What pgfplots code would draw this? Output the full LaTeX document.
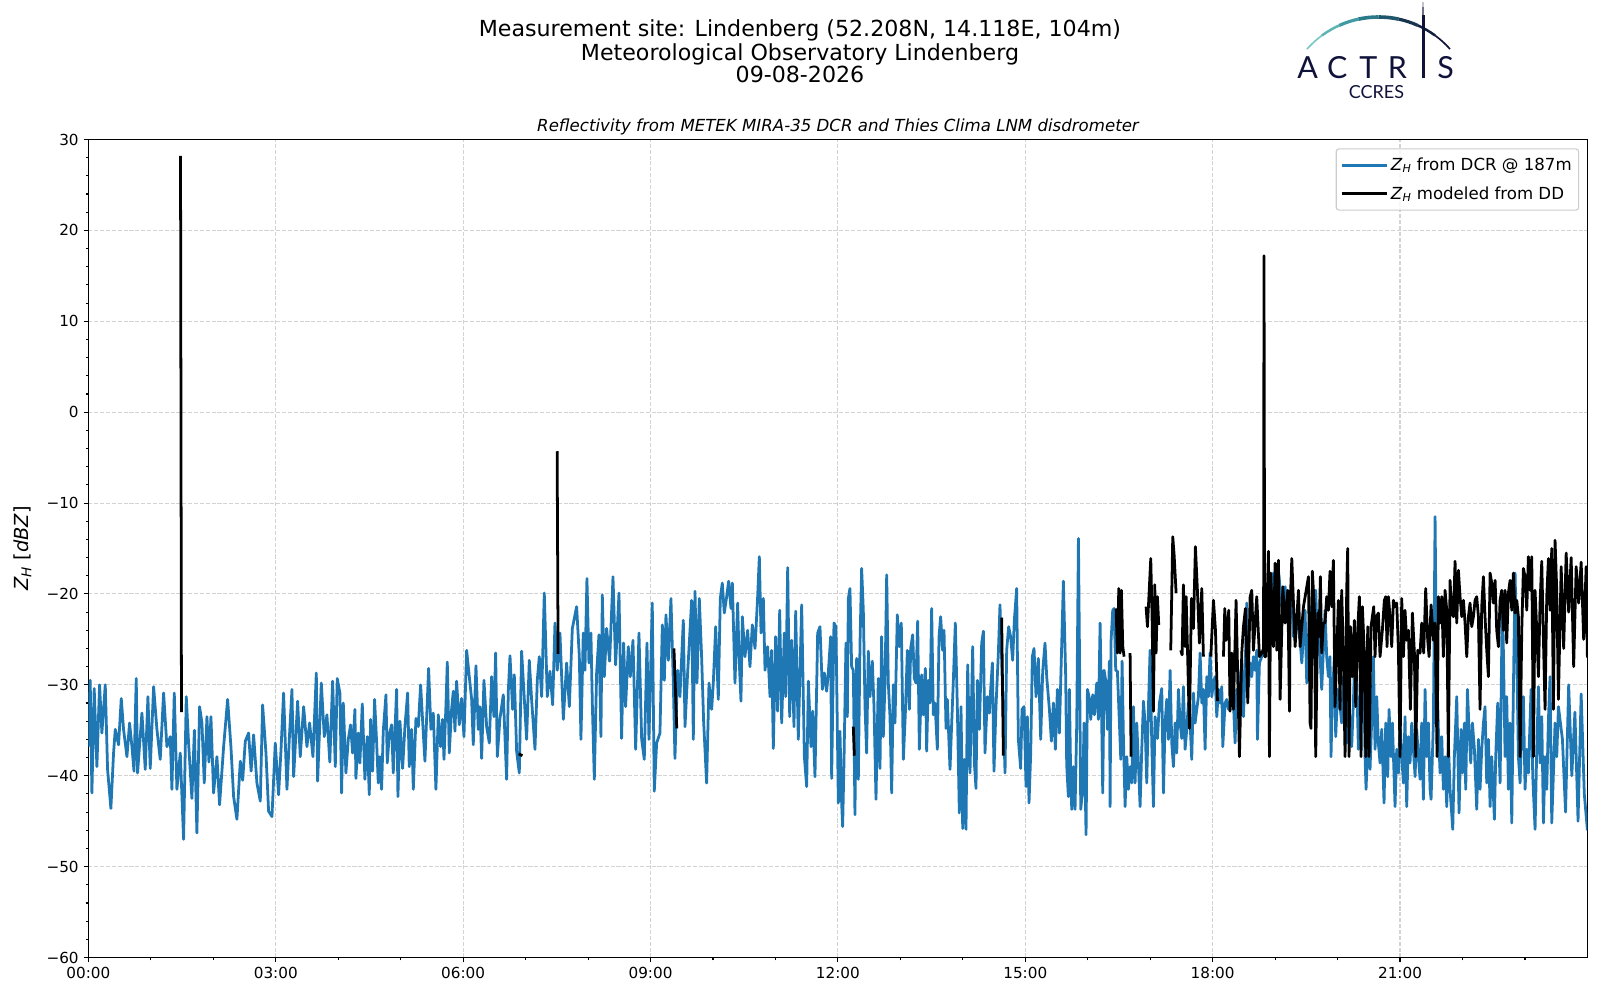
\documentclass[border=0pt]{standalone}
\usepackage{fontspec}
\setmainfont{DejaVu Sans}[ItalicFont={DejaVu Sans Oblique}]
\newfontfamily\logofont{Lato}
\usepackage{pgfplots}
\pgfplotsset{compat=1.18}
\definecolor{mplblue}{HTML}{1F77B4}
\definecolor{navy}{HTML}{10123A}
\definecolor{gridc}{HTML}{D3D3D3}
\definecolor{legc}{HTML}{CCCCCC}
\newcommand{\ZH}{\textit{Z}\textsubscript{\textit{H}}}
\begin{document}
\begin{tikzpicture}
\useasboundingbox (-0.884in,-0.425in) rectangle (15.116in,9.575in);
\begin{axis}[
  at={(0pt,0pt)}, anchor=south west,
  scale only axis, width=14.99in, height=8.18in,
  xmin=0, xmax=24, ymin=-60, ymax=30,
  xtick={0,3,6,9,12,15,18,21},
  xticklabels={00:00,03:00,06:00,09:00,12:00,15:00,18:00,21:00},
  minor xtick={1,2,4,5,7,8,10,11,13,14,16,17,19,20,22,23},
  ytick={-60,-50,-40,-30,-20,-10,0,10,20,30},
  yticklabels={−60,−50,−40,−30,−20,−10,0,10,20,30},
  minor y tick num=4,
  tick align=outside, tick pos=left,
  major tick length=3.5pt, minor tick length=2pt,
  every tick/.style={black, line width=0.8pt},
  axis line style={line width=0.8pt},
  grid=major,
  major grid style={gridc, line width=0.8pt, dash pattern=on 2.96pt off 1.28pt},
  ticklabel style={font=\fontsize{11}{13}\selectfont},
  /pgf/number format/assume math mode=true,
  ylabel={\ZH\ [\textit{dBZ}]},
  ylabel style={font=\fontsize{14}{16}\selectfont, at={(axis description cs:-0.044,0.5)}, anchor=center},
  unbounded coords=jump,
  legend style={at={(0.9945,0.9892)}, anchor=north east, font=\fontsize{12}{14}\selectfont,
    draw=legc, line width=0.8pt, rounded corners=2pt, fill=white, fill opacity=0.8, text opacity=1,
    inner xsep=3pt, inner ysep=4.5pt, row sep=6pt, cells={anchor=west}},
  legend image code/.code={\draw[#1, line width=2pt] (0pt,0pt) -- (27pt,0pt); \path (-1.5pt,0pt) -- (31pt,0pt);},
]
\addplot[mplblue, line width=2pt, line join=round] coordinates {
(0.000,-36.8)(0.029,-29.5)(0.056,-41.9)(0.093,-30.4)(0.136,-39.0)(0.179,-30.0)(0.216,-35.3)(0.270,-30.0)(0.307,-39.3)(0.360,-43.6)
(0.403,-37.5)(0.430,-34.9)(0.483,-36.6)(0.526,-31.5)(0.563,-34.9)(0.617,-37.9)(0.659,-34.2)(0.697,-36.8)(0.730,-39.5)(0.766,-29.3)(0.787,-39.7)
(0.857,-33.1)(0.910,-39.3)(0.953,-31.3)(0.990,-39.2)(1.044,-30.2)(1.097,-34.9)(1.150,-38.2)(1.204,-30.9)(1.257,-36.8)(1.311,-35.7)
(1.337,-41.5)(1.375,-30.9)(1.417,-41.5)(1.471,-37.5)(1.524,-47.0)(1.567,-31.3)(1.604,-36.4)(1.657,-42.5)(1.697,-35.0)(1.737,-46.3)(1.780,-32.4)
(1.818,-34.2)(1.855,-40.8)(1.898,-33.5)(1.930,-38.5)(1.962,-33.5)(2.004,-41.9)(2.058,-37.9)(2.100,-43.2)(2.165,-36.8)(2.229,-31.6)(2.282,-36.8)
(2.325,-42.3)(2.378,-44.8)(2.432,-38.4)(2.470,-40.5)(2.512,-36.2)(2.565,-35.3)(2.605,-39.5)(2.645,-35.5)(2.698,-40.8)(2.752,-42.8)(2.789,-32.2)
(2.843,-37.5)(2.885,-43.9)(2.939,-44.5)(2.992,-36.4)(3.045,-42.1)(3.085,-37.0)(3.125,-30.9)(3.179,-41.5)(3.220,-35.5)(3.259,-30.5)(3.286,-40.1)
(3.350,-31.8)(3.392,-37.9)(3.446,-32.4)(3.499,-36.8)(3.542,-34.2)(3.595,-37.9)(3.649,-28.7)(3.670,-40.6)(3.729,-29.8)(3.777,-35.7)
(3.819,-33.3)(3.865,-38.5)(3.910,-29.6)(3.953,-39.0)
(3.984,-29.3)(4.027,-30.9)(4.054,-41.9)(4.081,-32.0)(4.123,-39.7)(4.161,-36.0)(4.198,-34.4)(4.230,-37.5)(4.267,-32.7)(4.283,-40.3)
(4.321,-35.3)(4.347,-38.6)(4.385,-32.1)(4.427,-40.4)(4.465,-35.7)(4.497,-42.1)(4.518,-33.8)(4.550,-39.5)(4.582,-31.6)(4.614,-36.2)
(4.641,-40.8)(4.668,-37.9)(4.694,-41.5)(4.721,-35.1)(4.764,-31.1)(4.785,-38.6)(4.817,-35.5)(4.855,-34.4)(4.881,-39.7)(4.935,-30.5)
(4.956,-42.3)(4.988,-34.0)(5.031,-39.2)(5.068,-34.6)(5.111,-30.9)(5.137,-39.0)(5.175,-34.9)(5.202,-41.5)(5.244,-33.7)(5.282,-34.6)
(5.319,-30.0)(5.362,-35.3)(5.388,-38.4)(5.447,-28.2)(5.484,-34.9)(5.522,-33.1)(5.564,-41.5)(5.602,-33.3)(5.639,-36.8)(5.671,-33.8)
(5.693,-38.2)(5.725,-32.2)(5.746,-27.5)(5.778,-37.5)(5.815,-32.7)(5.842,-30.7)(5.869,-35.1)(5.895,-29.6)(5.938,-34.4)(5.975,-31.5)
(6.013,-35.7)(6.056,-26.2)(6.098,-29.1)(6.136,-31.6)(6.162,-36.6)(6.205,-27.9)(6.242,-34.9)(6.269,-32.4)(6.296,-38.1)(6.333,-29.5)
(6.376,-34.6)(6.419,-36.4)(6.456,-29.1)(6.493,-33.5)(6.520,-26.5)(6.547,-37.9)(6.589,-33.7)(6.643,-31.1)(6.696,-40.4)(6.723,-30.7)
(6.750,-26.8)(6.792,-32.7)(6.819,-28.9)(6.856,-37.3)(6.899,-39.7)(6.936,-26.3)(6.974,-30.9)(7.016,-36.0)(7.059,-27.3)(7.096,-31.6)
(7.150,-37.1)(7.187,-29.5)(7.219,-26.9)(7.257,-31.3)(7.299,-19.9)(7.347,-31.3)(7.390,-28.5)(7.433,-32.2)(7.470,-23.2)(7.507,-28.4)
(7.550,-24.3)(7.604,-33.8)(7.657,-27.6)(7.700,-32.4)(7.748,-23.8)(7.817,-21.4)(7.860,-26.9)
(7.886,-36.0)(7.923,-24.3)(7.950,-28.4)(7.982,-18.3)(8.014,-27.6)(8.046,-24.3)(8.068,-32.0)(8.100,-40.4)(8.137,-28.7)(8.174,-24.5)
(8.206,-35.7)(8.228,-20.1)(8.260,-29.1)(8.297,-23.8)(8.345,-27.4)(8.399,-18.1)(8.441,-27.8)(8.495,-19.9)(8.537,-35.9)(8.569,-25.4)
(8.601,-32.4)(8.644,-25.8)(8.676,-29.1)(8.719,-25.1)(8.762,-37.1)(8.815,-24.3)(8.858,-36.0)(8.900,-38.2)(8.943,-25.4)(8.975,-36.0)
(9.028,-21.0)(9.060,-41.7)(9.098,-36.4)(9.151,-35.3)(9.189,-23.4)(9.221,-29.5)(9.247,-22.3)(9.285,-27.3)(9.327,-20.5)(9.365,-29.8)
(9.391,-38.1)(9.434,-28.4)(9.471,-31.3)(9.525,-22.9)(9.552,-34.6)(9.594,-28.7)(9.621,-25.4)(9.658,-20.7)(9.685,-36.0)(9.712,-19.7)
(9.744,-29.8)(9.781,-20.5)(9.818,-26.9)(9.850,-34.0)(9.898,-40.8)(9.936,-29.8)(9.979,-32.7)(10.005,-29.8)(10.043,-23.6)(10.085,-31.6)
(10.117,-20.5)(10.149,-18.8)(10.181,-22.1)(10.219,-20.3)(10.251,-18.6)(10.288,-21.6)(10.310,-18.8)(10.352,-29.8)(10.395,-21.0)(10.416,-26.7)
(10.448,-31.8)(10.470,-22.5)(10.512,-26.9)(10.555,-24.0)(10.592,-28.0)(10.630,-23.4)(10.673,-26.0)(10.715,-20.3)(10.742,-15.9)(10.769,-24.3)
(10.806,-20.5)(10.833,-28.4)(10.875,-25.8)(10.913,-31.3)(10.939,-26.2)(10.966,-37.0)(11.003,-24.7)(11.035,-32.9)(11.068,-21.8)(11.100,-34.2)
(11.142,-24.3)(11.164,-31.3)(11.196,-17.1)(11.228,-33.5)(11.260,-25.1)(11.297,-34.6)(11.324,-21.9)(11.366,-36.0)(11.420,-21.2)(11.463,-37.9)
(11.500,-41.2)(11.527,-29.6)(11.569,-36.8)(11.596,-32.9)(11.633,-40.1)(11.676,-24.3)(11.713,-23.6)(11.751,-30.5)(11.783,-28.7)
(11.820,-30.7)(11.846,-28.7)(11.884,-24.7)(11.900,-40.3)(11.937,-23.2)(11.969,-23.6)(12.007,-43.0)(12.033,-35.1)(12.060,-43.0)(12.076,-45.6)
(12.097,-38.6)(12.129,-25.4)(12.151,-33.5)(12.167,-20.5)(12.193,-19.4)(12.220,-28.0)(12.247,-28.4)(12.273,-44.3)(12.300,-27.1)(12.327,-40.4)
(12.354,-25.4)(12.380,-17.2)(12.407,-21.8)(12.434,-32.4)(12.460,-37.5)(12.487,-26.3)(12.514,-31.3)(12.551,-27.4)(12.578,-32.4)(12.610,-42.6)
(12.647,-29.3)(12.674,-39.2)(12.700,-24.7)(12.727,-35.7)(12.754,-29.8)(12.781,-17.9)(12.807,-29.8)(12.834,-33.5)(12.861,-41.9)(12.887,-30.0)
(12.914,-34.2)(12.951,-22.3)(12.983,-25.8)(13.015,-23.2)(13.048,-38.2)(13.080,-33.1)(13.112,-26.2)(13.144,-32.7)(13.165,-26.0)(13.197,-24.5)
(13.224,-29.3)(13.250,-29.8)(13.277,-23.0)(13.304,-37.1)(13.341,-28.9)(13.368,-33.3)(13.400,-28.2)(13.421,-37.3)(13.448,-29.5)(13.475,-32.0)
(13.501,-21.6)(13.528,-33.3)(13.555,-32.0)(13.592,-37.1)(13.619,-24.7)(13.645,-22.5)(13.677,-26.2)(13.699,-24.0)(13.731,-34.8)(13.752,-31.6)
(13.795,-39.3)(13.822,-34.2)(13.848,-29.6)(13.880,-23.2)(13.912,-32.4)(13.944,-44.1)(13.971,-32.4)(13.998,-45.8)(14.024,-38.2)(14.051,-45.9)
(14.078,-27.8)(14.115,-39.7)(14.158,-25.8)(14.185,-38.6)(14.211,-41.4)(14.233,-29.5)(14.265,-34.9)(14.302,-25.4)(14.329,-24.1)(14.355,-37.5)
(14.393,-31.3)(14.425,-33.1)(14.446,-30.5)(14.473,-27.6)(14.499,-39.5)(14.531,-32.4)(14.569,-26.5)(14.595,-21.2)(14.633,-29.8)(14.676,-39.7)
(14.702,-26.2)(14.734,-23.6)(14.766,-24.7)(14.798,-27.3)(14.825,-22.9)(14.862,-19.4)(14.889,-36.0)(14.926,-39.2)(14.948,-32.7)(14.980,-32.4)
(15.012,-41.2)(15.033,-33.5)(15.060,-43.0)(15.087,-37.5)(15.113,-26.9)(15.140,-26.0)(15.172,-31.3)(15.209,-27.1)(15.247,-36.0)(15.279,-28.5)
(15.316,-25.4)(15.343,-29.1)(15.386,-32.7)(15.418,-36.2)(15.450,-32.0)(15.482,-37.1)(15.514,-30.5)(15.546,-35.3)(15.567,-29.8)(15.610,-18.6)
(15.647,-29.1)(15.663,-38.8)(15.690,-42.3)(15.706,-30.5)
(15.728,-40.4)(15.744,-43.7)(15.771,-39.0)(15.797,-43.7)(15.824,-34.2)(15.851,-13.9)(15.867,-25.8)(15.888,-43.7)(15.920,-41.5)(15.941,-34.2)
(15.973,-46.5)(15.995,-30.5)(16.027,-31.5)(16.048,-33.8)(16.080,-31.1)(16.107,-33.3)(16.144,-29.8)(16.171,-33.8)(16.198,-23.2)(16.224,-34.2)
(16.240,-41.9)(16.262,-28.4)(16.294,-29.8)(16.315,-34.9)(16.347,-27.4)(16.358,-43.4)(16.374,-25.1)(16.400,-21.8)(16.422,-21.6)(16.448,-28.4)
(16.475,-28.5)(16.507,-34.2)(16.529,-38.2)(16.550,-27.4)(16.571,-35.7)(16.598,-43.4)(16.625,-37.9)(16.651,-41.5)(16.678,-39.0)(16.705,-40.8)
(16.731,-32.4)(16.758,-40.8)(16.785,-34.2)(16.811,-38.6)(16.838,-43.4)(16.865,-37.1)(16.892,-31.8)(16.918,-34.2)(16.945,-40.8)(16.972,-32.4)
(16.998,-26.2)(17.025,-36.4)(17.052,-43.4)(17.078,-33.5)(17.116,-35.9)(17.148,-32.0)(17.185,-30.4)(17.212,-41.9)(17.238,-34.2)(17.265,-31.6)
(17.292,-36.0)(17.319,-28.4)(17.345,-36.4)(17.372,-39.0)(17.399,-34.2)(17.425,-37.5)(17.452,-30.5)(17.479,-34.2)(17.505,-35.9)(17.532,-30.2)
(17.559,-37.1)(17.585,-34.9)(17.612,-32.0)(17.639,-34.2)(17.665,-38.2)(17.692,-30.9)(17.719,-34.2)(17.746,-32.7)(17.772,-31.3)(17.799,-26.5)
(17.826,-32.0)(17.852,-30.5)(17.879,-37.1)(17.906,-29.1)(17.932,-31.3)(17.959,-26.5)(17.986,-31.3)(18.012,-29.8)(18.039,-29.1)(18.066,-33.5)
(18.093,-30.5)(18.119,-32.0)(18.146,-30.2)(18.162,-36.8)(18.199,-32.0)(18.226,-31.6)(18.253,-32.7)(18.279,-32.0)(18.306,-30.9)(18.333,-32.0)
(18.359,-36.4)(18.386,-30.5)(18.413,-32.0)(18.439,-29.8)(18.466,-27.3)(18.493,-33.5)(18.520,-28.4)(18.546,-21.0)(18.573,-30.2)(18.600,-27.6)
(18.626,-29.1)(18.653,-26.9)(18.680,-28.4)(18.706,-26.2)(18.717,-36.0)(18.749,-27.6)(18.786,-26.9)(18.824,-26.5)(18.867,-23.2)(18.920,-20.3)
(18.973,-17.7)(19.016,-25.1)(19.053,-17.4)(19.107,-21.4)(19.160,-19.2)(19.213,-23.2)(19.267,-20.7)(19.294,-24.7)(19.347,-22.5)(19.400,-25.1)
(19.427,-27.6)(19.480,-21.8)
(19.506,-29.8)(19.532,-25.8)(19.559,-21.4)(19.586,-26.9)(19.612,-24.7)(19.650,-19.6)(19.671,-24.0)(19.693,-21.8)(19.719,-26.9)(19.746,-30.5)
(19.773,-26.2)(19.799,-21.8)(19.826,-26.9)(19.853,-29.1)(19.879,-26.9)(19.895,-37.9)(19.917,-31.3)(19.949,-26.9)(19.970,-35.7)(20.002,-30.5)
(20.039,-32.4)(20.066,-34.2)(20.093,-29.1)(20.120,-34.9)(20.146,-36.4)(20.173,-30.5)(20.200,-34.2)(20.226,-36.8)(20.253,-32.0)(20.280,-25.8)
(20.306,-29.1)(20.333,-37.1)(20.360,-31.3)(20.386,-34.2)(20.413,-27.6)(20.440,-37.9)(20.456,-41.5)(20.493,-34.9)(20.520,-39.3)(20.547,-33.8)
(20.573,-26.9)(20.600,-37.1)(20.627,-31.3)(20.653,-36.4)(20.680,-38.6)(20.707,-34.9)(20.744,-43.0)(20.771,-34.2)(20.803,-40.1)(20.824,-32.7)
(20.856,-37.9)(20.878,-34.2)(20.920,-43.4)(20.947,-37.1)(20.974,-39.7)(21.000,-34.2)(21.027,-37.9)(21.054,-40.8)(21.080,-33.5)(21.107,-43.4)
(21.134,-35.7)(21.160,-38.6)(21.187,-34.2)(21.214,-37.1)(21.241,-40.1)(21.267,-34.9)(21.294,-37.9)(21.321,-40.4)(21.347,-34.2)(21.374,-42.6)
(21.401,-30.5)(21.427,-37.9)(21.454,-34.2)(21.481,-41.5)(21.497,-42.6)(21.534,-34.2)(21.561,-11.5)(21.582,-26.9)(21.614,-34.9)(21.641,-39.7)
(21.668,-35.7)(21.694,-41.5)(21.721,-37.9)(21.748,-43.4)(21.774,-36.4)(21.801,-41.5)(21.844,-45.9)(21.870,-37.9)(21.908,-31.3)(21.945,-44.1)
(21.977,-34.9)(21.999,-39.7)(22.031,-34.2)(22.052,-41.5)(22.079,-30.5)(22.105,-34.9)(22.132,-38.6)(22.159,-34.2)(22.191,-37.1)(22.228,-43.7)
(22.255,-36.0)(22.281,-41.5)(22.308,-37.1)(22.335,-34.2)(22.361,-32.4)(22.388,-40.8)(22.415,-36.0)(22.442,-43.4)(22.468,-37.9)(22.511,-44.8)
(22.532,-37.9)(22.564,-32.0)(22.602,-40.8)(22.639,-19.9)(22.660,-28.4)(22.682,-37.9)(22.708,-31.3)(22.735,-41.5)(22.762,-34.2)(22.789,-45.2)
(22.815,-30.5)(22.842,-17.7)(22.869,-26.9)(22.895,-37.9)(22.922,-40.8)(22.949,-34.9)(22.975,-31.3)(23.002,-41.5)(23.029,-37.1)(23.055,-39.7)
(23.098,-30.5)(23.125,-40.1)(23.162,-45.9)(23.189,-37.1)(23.216,-30.2)(23.242,-38.6)(23.269,-33.5)(23.296,-45.2)(23.322,-37.9)(23.349,-41.5)
(23.376,-33.8)(23.402,-29.1)(23.429,-45.2)(23.456,-39.7)(23.482,-34.2)(23.509,-37.9)(23.536,-32.4)
(23.600,-36.0)(23.650,-44.0)(23.700,-30.0)(23.750,-40.0)(23.800,-33.0)(23.850,-45.0)(23.900,-31.0)(23.950,-42.0)(24.000,-46.0)
};
\addlegendentry{\ZH\ from DCR @ 187m}
\addplot[black, line width=2pt, line join=round] coordinates {
(1.475,28.2)(1.490,-33.0)(1.50,nan)
(6.89,-37.6)(6.95,-37.8)(7.00,nan)
(7.505,-4.3)(7.520,-26.6)(7.60,nan)
(9.375,-26.0)(9.420,-34.8)(9.50,nan)
(12.247,-34.6)(12.263,-37.8)(12.30,nan)
(14.622,-22.6)(14.649,-37.8)(14.70,nan)
(16.454,-21.6)(16.475,-26.5)(16.497,-19.4)(16.518,-26.5)(16.539,-19.6)(16.561,-25.8)(16.582,-26.9)(16.63,nan)
(16.678,-26.5)(16.694,-37.9)(16.80,nan)
(16.934,-21.4)(16.956,-23.6)(17.009,-16.1)(17.030,-22.5)(17.052,-32.9)(17.073,-19.0)(17.094,-26.5)(17.116,-20.3)(17.137,-23.4)(17.20,nan)
(17.329,-26.2)(17.361,-13.7)(17.383,-15.7)(17.415,-19.9)(17.45,nan)
(17.489,-26.2)(17.511,-26.7)(17.532,-19.0)(17.559,-25.8)(17.575,-20.3)(17.596,-25.8)(17.628,-34.8)(17.660,-20.5)(17.692,-23.8)(17.724,-14.8)
(17.756,-19.6)(17.788,-25.4)(17.826,-19.4)(17.852,-26.9)(17.90,nan)
(17.970,-26.9)(18.013,-20.7)(18.045,-24.0)(18.077,-31.8)(18.12,nan)
(18.173,-26.9)(18.194,-21.6)(18.215,-25.1)(18.258,-21.8)(18.279,-32.9)(18.306,-26.5)(18.333,-32.7)(18.375,-20.7)(18.429,-37.9)(18.466,-26.5)
(18.493,-23.6)(18.525,-21.6)(18.562,-32.0)(18.600,-20.3)(18.626,-19.6)(18.653,-26.2)(18.706,-20.3)(18.749,-26.9)(18.786,-26.5)(18.815,-26.0)
(18.822,17.2)(18.833,-26.9)(18.850,-26.9)(18.893,-15.3)(18.909,-37.9)(18.930,-17.7)(18.973,-25.8)(19.000,-16.6)(19.027,-26.2)(19.053,-16.3)
(19.080,-31.6)(19.123,-19.2)(19.160,-23.2)(19.203,-19.6)(19.230,-32.9)(19.240,-21.4)(19.267,-16.1)(19.320,-25.8)(19.374,-19.6)(19.400,-25.8)
(19.454,-21.4)(19.534,-18.1)(19.560,-34.2)
(19.575,-34.8)(19.596,-17.5)(19.628,-21.4)(19.650,-37.9)(19.682,-22.1)(19.703,-24.7)(19.725,-18.1)(19.746,-26.5)(19.773,-23.2)(19.799,-23.2)
(19.826,-20.3)(19.853,-21.8)(19.879,-17.5)(19.906,-21.4)(19.933,-16.3)(19.959,-32.4)(19.986,-26.9)(20.013,-20.7)(20.039,-32.7)(20.066,-19.6)
(20.093,-26.9)(20.120,-37.9)(20.146,-19.6)(20.162,-15.0)(20.184,-37.9)(20.205,-23.6)(20.237,-29.1)(20.269,-22.9)(20.290,-32.4)(20.322,-24.0)
(20.349,-20.3)(20.376,-37.9)(20.397,-21.4)(20.429,-26.5)(20.451,-37.9)(20.483,-23.6)(20.504,-37.9)(20.536,-23.6)(20.557,-22.5)(20.579,-21.4)
(20.600,-26.9)(20.621,-22.5)(20.653,-22.1)(20.680,-26.9)(20.717,-24.0)(20.749,-20.7)(20.771,-20.3)(20.792,-25.8)(20.814,-20.3)(20.840,-22.5)
(20.867,-25.8)(20.894,-20.7)(20.920,-21.4)(20.947,-21.0)(20.974,-26.2)(21.000,-37.9)(21.027,-20.5)(21.054,-26.9)(21.080,-21.8)(21.107,-25.1)
(21.134,-24.0)(21.166,-32.7)(21.198,-22.1)(21.230,-26.5)(21.251,-37.9)(21.283,-26.2)(21.321,-26.5)(21.347,-23.2)(21.379,-26.5)(21.411,-19.4)
(21.443,-25.1)(21.465,-26.9)(21.497,-21.2)(21.534,-25.1)(21.561,-23.2)(21.593,-37.9)(21.614,-20.3)(21.641,-23.2)(21.668,-20.3)(21.694,-26.9)
(21.721,-19.6)(21.748,-21.8)(21.774,-37.9)(21.801,-18.5)(21.828,-22.1)(21.855,-22.5)(21.881,-16.4)(21.908,-23.2)(21.935,-17.4)(21.961,-20.3)
(21.988,-22.5)(22.015,-20.7)(22.041,-23.2)(22.068,-26.9)(22.095,-22.5)(22.121,-21.0)(22.148,-23.6)(22.175,-22.5)(22.201,-20.7)(22.228,-20.3)
(22.255,-22.5)(22.281,-32.7)(22.308,-21.4)(22.335,-18.1)(22.361,-22.5)(22.388,-26.2)(22.415,-29.1)(22.442,-17.7)(22.468,-18.8)(22.495,-21.0)
(22.522,-18.5)(22.548,-24.0)(22.575,-25.8)(22.602,-20.7)(22.628,-19.6)(22.655,-24.0)(22.682,-19.6)(22.708,-25.4)(22.735,-19.9)(22.762,-18.5)
(22.789,-21.8)(22.815,-17.7)(22.842,-22.1)(22.869,-20.7)(22.895,-22.5)(22.922,-37.9)(22.949,-24.0)(22.975,-17.2)(23.002,-18.1)(23.029,-21.8)
(23.055,-15.9)(23.082,-19.6)(23.109,-15.9)(23.136,-37.9)(23.162,-19.6)(23.189,-24.0)(23.216,-29.1)(23.242,-21.0)(23.269,-16.4)(23.296,-25.1)
(23.322,-32.7)(23.349,-20.3)(23.376,-16.1)(23.402,-21.8)(23.429,-15.0)(23.456,-32.7)(23.482,-14.1)(23.509,-19.6)(23.536,-31.6)
(23.580,-17.0)(23.620,-26.0)(23.660,-15.5)(23.700,-22.0)(23.740,-16.0)(23.780,-28.0)(23.820,-17.0)(23.860,-21.0)(23.900,-16.5)(23.940,-25.0)
(23.980,-17.0)(24.000,-27.0)
};
\addlegendentry{\ZH\ modeled from DD}
\end{axis}
% titles
\node[anchor=base, font=\fontsize{16}{19}\selectfont] at (7.116in,9.212in) {Measurement site: Lindenberg (52.208N, 14.118E, 104m)};
\node[anchor=base, font=\fontsize{16}{19}\selectfont] at (7.116in,8.965in) {Meteorological Observatory Lindenberg};
\node[anchor=base, font=\fontsize{16}{19}\selectfont] at (7.116in,8.745in) {09-08-2026};
\node[anchor=base, font=\fontsize{12}{14}\selectfont\itshape] at (7.496in,8.258in) {Reflectivity from METEK MIRA-35 DCR and Thies Clima LNM disdrometer};
% logo
\def\cx{12.901in}\def\cy{8.447in}
\foreach \a/\b/\c/\w in {138.3/126.2/79C7C4/1.2,126.2/114.2/5EB4B5/1.8,114.2/102.1/3F9AA3/2.3,102.1/90.0/2A7A8A/2.6,90.0/77.9/1E566B/2.6,77.9/65.8/17344F/2.3,65.8/53.8/12203F/1.8,53.8/41.7/10123A/1.2}{
  \definecolor{segc}{HTML}{\c}
  \draw[segc, line width=\w pt] ([shift={(\a:0.958in)}]\cx,\cy) arc[start angle=\a, end angle=\b, radius=0.958in];
}
\draw[navy, line width=2.6pt] (13.349in,8.792in) -- (13.349in,9.005in);
\draw[navy, line width=1.8pt] (13.349in,9.005in) -- (13.349in,9.42in);
\draw[navy!60, line width=1.5pt] (13.349in,9.42in) -- (13.349in,9.50in);
\draw[navy!25, line width=1.3pt] (13.349in,9.50in) -- (13.349in,9.555in);
\foreach \l/\x in {A/12.193,C/12.489,T/12.799,R/13.089,S/13.573}{
  \node[anchor=base, inner sep=0pt, text=navy, font=\logofont\fontsize{22}{25}\selectfont] at (\x in,8.792in) {\l};
}
\node[anchor=base, inner sep=0pt, text=navy, font=\logofont\fontsize{13}{15}\selectfont] at (12.881in,8.585in) {CCRES};
\end{tikzpicture}
\end{document}
